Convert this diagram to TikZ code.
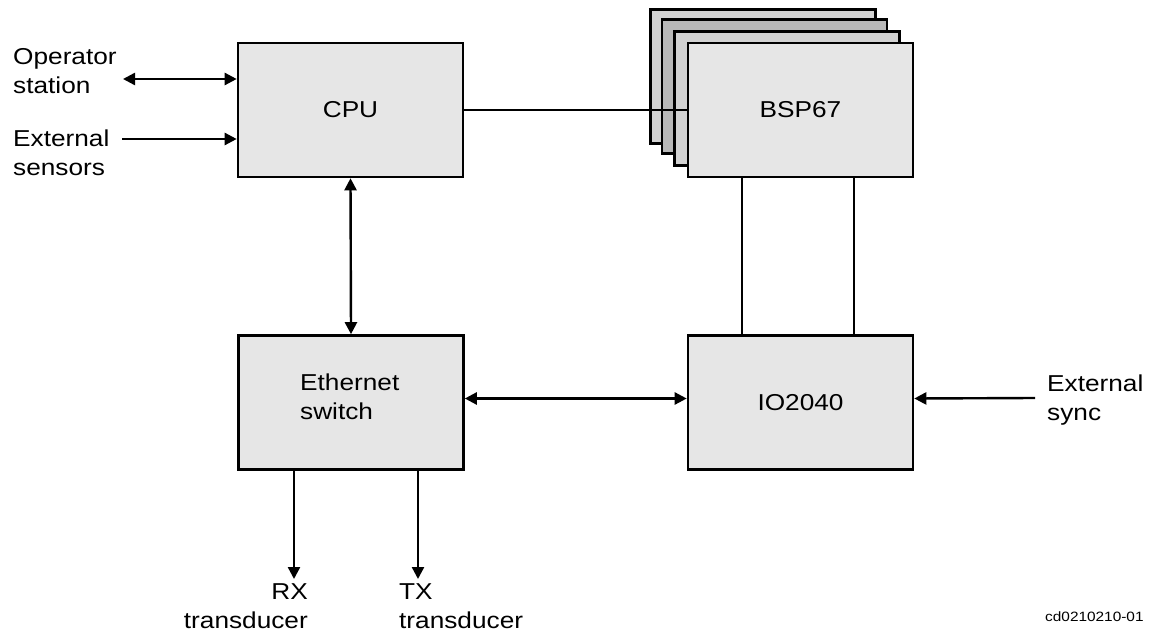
\documentclass[tikz,border=0pt]{standalone}
\usepackage{fontspec}
\setmainfont{Liberation Sans}[FakeStretch=1.14]
\usetikzlibrary{arrows.meta}
\definecolor{boxfill}{HTML}{E6E6E6}
\definecolor{backlight}{HTML}{D2D2D2}
\definecolor{backdark}{HTML}{B8B8B8}
\begin{document}
\begin{tikzpicture}[x=1pt,y=-1pt,
  blk/.style={draw=black, line width=2.6pt, fill=boxfill, minimum width=225pt, minimum height=134pt, inner sep=0pt, font=\fontsize{23}{29}\selectfont},
  lbl/.style={inner sep=0pt, font=\fontsize{23}{29}\selectfont},
  conn/.style={line width=2.4pt},
  arr/.style={conn, -{Triangle[length=12pt,width=12pt]}},
  darr/.style={conn, {Triangle[length=12pt,width=12pt]}-{Triangle[length=12pt,width=12pt]}}]
\useasboundingbox (0,0) rectangle (1151,636);

% BSP stack (back cards)
\node[blk, fill=backlight] (bspa) at (763,76.5) {};
\node[blk, fill=backdark] (bspb) at (774.5,86.5) {};
\node[blk, fill=backlight] (bspc) at (787,98.5) {};

% main blocks
\node[blk] (cpu) at (350.5,110) {CPU};
\draw[conn] (cpu.east) -- (bspc.west |- cpu.east) coordinate (cpubsp);
\node[blk] (bsp) at (800.5,110) {BSP67};
\draw[conn] (cpubsp) -- (bsp.west |- cpu.east);
\node[blk] (eth) at (351,402.5) {};
\node[blk] (io) at (800.5,402.5) {IO2040};
\node[lbl, align=left, anchor=north west] (ethlbl) at (300,374) {Ethernet\\switch};

% left inputs
\node[lbl, align=left, anchor=north west] (op) at (13,48) {Operator\\station};
\node[lbl, align=left, anchor=north west] (ext) at (13,130) {External\\sensors};
\coordinate (opend) at (123,79);
\coordinate (extend) at (122,139);
\draw[darr] (opend) -- ([yshift=31pt]cpu.west);
\draw[arr] (extend) -- ([yshift=-29pt]cpu.west);

% CPU - Ethernet
\draw[darr] (cpu.south) -- (eth.north);

% BSP - IO
\draw[conn] ([xshift=-58.5pt]bsp.south) -- ([xshift=-58.5pt]io.north);
\draw[conn] ([xshift=53.5pt]bsp.south) -- ([xshift=53.5pt]io.north);

% Ethernet - IO
\draw[darr] ([yshift=4pt]eth.east) -- ([yshift=4pt]io.west);

% External sync
\node[lbl, align=left, anchor=north west] (sync) at (1047,375) {External\\sync};
\coordinate (syncend) at (1035,398);
\draw[arr] (syncend) -- ([yshift=4pt]io.east);

% transducers
\coordinate (rxend) at (294,579);
\coordinate (txend) at (418,579);
\draw[arr] ([xshift=-57pt]eth.south) -- (rxend);
\draw[arr] ([xshift=67pt]eth.south) -- (txend);
\node[lbl, align=right, anchor=north east] (rx) at (308,583) {RX\\transducer};
\node[lbl, align=left, anchor=north west] (tx) at (399,583) {TX\\transducer};

% figure id
\node[inner sep=0pt, anchor=north west, font=\fontsize{13.5}{16}\selectfont] (fid) at (1045,612) {cd0210210-01};
\end{tikzpicture}
\end{document}
